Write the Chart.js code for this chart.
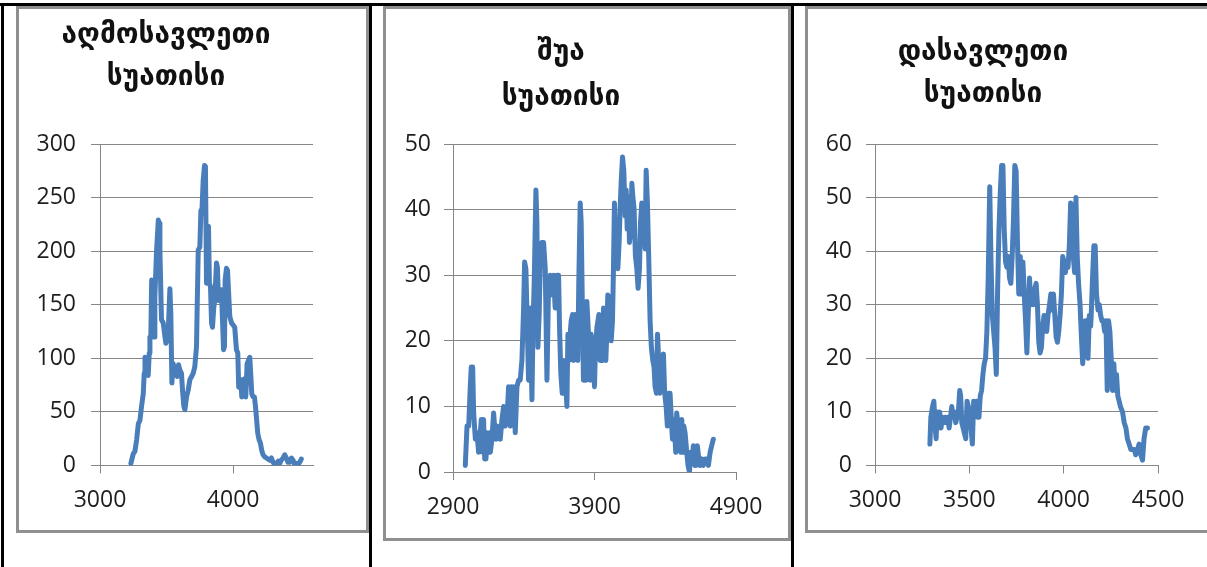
<!DOCTYPE html>
<html lang="ka">
<head>
<meta charset="UTF-8">
<title>სუათისი</title>
<script src="https://cdn.jsdelivr.net/npm/chart.js"></script>
<style>
  html, body { margin: 0; padding: 0; background: #fff; width: 1207px; height: 567px; overflow: hidden; position: relative; }
  .box { position: absolute; border: 3px solid #8f8f8f; box-sizing: border-box; }
  .rule { position: absolute; background: #000; }
  canvas { position: absolute; }
</style>
</head>
<body>
  <div class="box" style="left:16px;top:6px;width:353px;height:527px"></div>
  <div class="box" style="left:383px;top:6px;width:408px;height:535px"></div>
  <div class="box" style="left:805px;top:6px;width:410px;height:527px"></div>

  <div class="rule" style="left:0;top:3px;width:1207px;height:3px"></div>
  <div class="rule" style="left:1px;top:3px;width:3px;height:564px"></div>
  <div class="rule" style="left:369px;top:3px;width:3px;height:564px"></div>
  <div class="rule" style="left:791px;top:3px;width:3px;height:564px"></div>

  <canvas id="east" width="312" height="521" style="left:19px;top:9px"></canvas>
  <canvas id="mid" width="404" height="529" style="left:386px;top:9px"></canvas>
  <canvas id="west" width="408" height="521" style="left:808px;top:9px"></canvas>

<script>
// აღმოსავლეთი სუათისი
const eastTitle = ['აღმოსავლეთი', 'სუათისი'];
const eastTicks = [3000, 4000];
const eastX = [3232,3250,3262,3275,3288,3300,3312,3325,3332,3338,
  3350,3362,3370,3375,3382,3388,3395,3400,3408,3412,
  3425,3438,3445,3450,3458,3462,3475,3488,3495,3505,
  3512,3525,3532,3540,3550,3562,3570,3580,3590,3600,
  3612,3620,3630,3638,3650,3662,3675,3688,3700,3712,
  3725,3730,3738,3750,3758,3765,3775,3785,3792,3800,
  3808,3815,3822,3830,3838,3845,3855,3862,3875,3882,
  3890,3900,3912,3920,3928,3935,3940,3950,3958,3965,
  3975,3988,4000,4012,4025,4035,4042,4050,4058,4065,
  4075,4088,4095,4105,4115,4125,4132,4140,4150,4160,
  4168,4175,4185,4195,4205,4215,4225,4238,4250,4275,
  4288,4300,4312,4325,4338,4350,4362,4375,4388,4400,
  4412,4425,4438,4450,4462,4475,4488,4500,4512];
const eastY = [2,11,13,24,39,42,55,67,86,101,
  100,84,105,120,120,173,170,120,120,157,
  201,229,226,201,157,136,133,120,114,117,
  123,165,142,77,95,86,89,83,94,89,
  86,70,55,52,64,70,80,83,86,92,
  111,148,201,204,238,235,266,280,279,170,
  220,223,170,167,133,129,148,154,189,185,
  154,157,164,136,108,111,173,184,182,164,
  139,133,131,129,108,105,73,75,80,64,
  80,81,64,95,98,101,86,67,64,64,
  55,45,30,24,21,14,10,8,7,5,
  7,3,1,2,4,2,5,7,10,7,
  3,3,7,5,1,2,1,3,6];

// შუა სუათისი
const midTitle = ['შუა', 'სუათისი'];
const midTicks = [2900, 3900, 4900];
const midX = [2987,2999,3011,3022,3029,3039,3046,3058,3069,3081,
  3093,3100,3109,3116,3124,3133,3140,3147,3156,3164,
  3175,3187,3194,3204,3211,3222,3234,3246,3258,3269,
  3281,3293,3298,3305,3312,3321,3328,3340,3352,3364,
  3375,3387,3399,3406,3415,3422,3434,3446,3458,3465,
  3474,3486,3493,3500,3509,3516,3528,3540,3552,3564,
  3575,3587,3599,3611,3622,3634,3646,3653,3662,3672,
  3681,3691,3698,3705,3712,3721,3728,3735,3745,3752,
  3759,3766,3775,3782,3789,3799,3806,3815,3822,3829,
  3839,3846,3853,3862,3869,3876,3884,3893,3900,3907,
  3917,3924,3931,3940,3947,3957,3964,3973,3980,3987,
  3994,4004,4011,4018,4027,4034,4041,4051,4058,4065,
  4074,4081,4088,4098,4107,4117,4124,4131,4140,4147,
  4157,4164,4171,4180,4189,4199,4208,4218,4225,4234,
  4241,4251,4258,4265,4274,4284,4293,4302,4312,4321,
  4328,4338,4345,4354,4361,4371,4378,4387,4396,4406,
  4415,4425,4434,4443,4451,4458,4467,4474,4481,4491,
  4500,4509,4517,4524,4531,4540,4552,4561,4571,4580,
  4589,4599,4608,4618,4627,4637,4646,4658,4669,4681,
  4693,4705,4717,4728,4740];
const midY = [1,7,7,13,16,16,9,5,6,3,
  6,8,3,8,2,2,6,3,6,3,
  5,9,7,5,7,6,5,8,10,7,
  8,13,10,7,13,8,13,6,13,14,
  14,17,25,32,31,25,14,25,11,22,
  29,43,38,19,24,31,35,35,31,14,
  28,30,27,30,25,30,30,22,15,12,
  17,16,13,10,21,17,21,23,24,17,
  21,24,22,17,29,41,38,24,14,19,
  14,26,23,19,14,21,19,16,13,19,
  22,23,24,17,19,17,25,18,17,21,
  27,26,22,20,23,31,41,33,35,31,
  35,40,44,48,46,39,43,37,42,35,
  37,44,42,40,33,31,28,31,38,41,
  39,37,34,46,41,32,23,19,17,16,
  13,12,21,17,12,17,14,18,12,10,
  7,12,12,8,5,8,6,3,9,7,
  5,3,8,3,7,6,3,1,0,3,
  2,4,1,1,4,2,1,2,1,2,
  2,1,3,4,5];

// დასავლეთი სუათისი
const westTitle = ['დასავლეთი', 'სუათისი'];
const westTicks = [3000, 3500, 4000, 4500];
const westX = [3291,3296,3305,3312,3319,3324,3329,3336,3343,3350,
  3357,3365,3372,3379,3386,3393,3400,3407,3414,3421,
  3428,3435,3442,3449,3454,3460,3467,3474,3481,3488,
  3495,3502,3509,3516,3523,3530,3537,3544,3551,3558,
  3565,3572,3579,3586,3593,3600,3608,3615,3622,3629,
  3636,3643,3650,3657,3664,3671,3678,3685,3692,3699,
  3706,3713,3720,3727,3734,3741,3748,3755,3762,3770,
  3777,3784,3791,3798,3805,3812,3819,3826,3833,3840,
  3847,3854,3861,3868,3875,3882,3889,3896,3903,3910,
  3917,3925,3932,3939,3946,3953,3960,3967,3974,3981,
  3988,3995,4002,4009,4016,4023,4030,4037,4044,4051,
  4058,4065,4072,4079,4087,4094,4101,4108,4115,4122,
  4129,4136,4143,4146,4153,4160,4167,4174,4182,4189,
  4196,4203,4210,4217,4224,4231,4238,4245,4252,4259,
  4266,4273,4280,4287,4294,4301,4312,4321,4330,4338,
  4347,4356,4365,4374,4382,4391,4400,4409,4418,4426,
  4435,4444];
const westY = [4,9,11,12,7,5,10,7,10,7,
  9,8,9,8,9,7,9,11,9,10,
  8,9,10,14,13,8,7,6,5,12,
  11,8,7,4,12,11,12,9,9,13,
  14,17,19,20,25,35,52,38,28,25,
  22,17,33,44,51,56,56,44,38,37,
  39,35,34,39,46,56,55,42,32,39,
  32,38,32,27,21,28,35,30,32,30,
  33,34,30,23,21,22,26,28,27,25,
  28,30,32,29,32,28,24,23,25,28,
  32,39,38,36,38,37,41,49,48,39,
  36,50,39,34,30,24,19,24,27,27,
  20,28,26,28,35,41,41,32,29,30,
  28,27,27,25,27,14,27,25,20,14,
  19,14,17,13,12,11,10,8,7,5,
  4,3,3,3,2,3,4,2,1,5,
  7,7];

const lineColor = '#4a7ebb';
const gridColor = '#868686';
const tickFont = { family: "'Open Sans', sans-serif", size: 23 };

function drawPanel(id, title, xs, ys, xTicks, cfg) {
  const points = xs.map((x, i) => ({ x: x, y: ys[i] }));
  new Chart(document.getElementById(id), {
    type: 'line',
    data: {
      datasets: [{
        data: points,
        borderColor: lineColor,
        borderWidth: 5,
        pointRadius: 0,
        tension: 0,
        borderJoinStyle: 'round',
        borderCapStyle: 'round',
        fill: false
      }]
    },
    options: {
      responsive: false,
      animation: false,
      devicePixelRatio: 1,
      layout: { padding: { left: 0, top: 0, right: cfg.padRight, bottom: 0 } },
      plugins: {
        legend: { display: false },
        tooltip: { enabled: false },
        title: {
          display: true,
          text: title,
          color: '#111',
          font: { family: "'DejaVu Sans', sans-serif", size: 28, weight: 'bold', lineHeight: cfg.titleLine + 'px' },
          padding: { top: cfg.titleTop, bottom: cfg.titleBottom }
        }
      },
      scales: {
        x: {
          type: 'linear',
          min: cfg.xMin,
          max: cfg.xMax,
          afterBuildTicks: s => { s.ticks = xTicks.map(v => ({ value: v })); },
          afterFit: s => { s.height = cfg.xHeight; },
          ticks: { color: '#1e1e1e', font: tickFont, padding: cfg.xPad, maxRotation: 0, autoSkip: false, callback: v => String(v) },
          grid: { drawOnChartArea: false, drawTicks: true, tickLength: 8, color: gridColor, lineWidth: 1 },
          border: { color: gridColor, width: 1 }
        },
        y: {
          min: 0,
          max: cfg.yMax,
          afterFit: s => { s.width = cfg.yWidth; },
          ticks: { stepSize: cfg.yStep, color: '#1e1e1e', font: tickFont, padding: cfg.yPad, callback: v => String(v) },
          grid: { color: gridColor, lineWidth: 1, drawTicks: true, tickLength: 9 },
          border: { color: gridColor, width: 1 }
        }
      }
    }
  });
}

drawPanel('east', eastTitle, eastX, eastY, eastTicks, {
  xMin: 3000, xMax: 4600, yMax: 300, yStep: 50,
  yWidth: 81, padRight: 18, xHeight: 64.5, xPad: 13, yPad: 15,
  titleLine: 42, titleTop: 6, titleBottom: 45
});
drawPanel('mid', midTitle, midX, midY, midTicks, {
  xMin: 2900, xMax: 4900, yMax: 50, yStep: 10,
  yWidth: 67, padRight: 54, xHeight: 66, xPad: 14, yPad: 13,
  titleLine: 45, titleTop: 21, titleBottom: 24
});
drawPanel('west', westTitle, westX, westY, westTicks, {
  xMin: 3000, xMax: 4500, yMax: 60, yStep: 10,
  yWidth: 67, padRight: 58, xHeight: 64.5, xPad: 13, yPad: 14,
  titleLine: 42, titleTop: 23, titleBottom: 28
});
</script>
</body>
</html>
